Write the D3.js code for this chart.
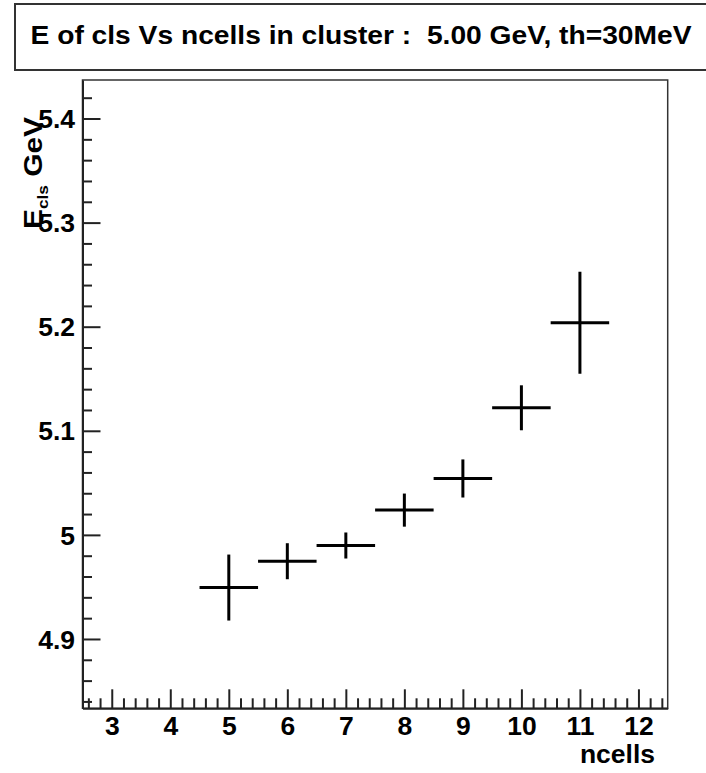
<!DOCTYPE html>
<html>
<head>
<meta charset="utf-8">
<script src="https://cdnjs.cloudflare.com/ajax/libs/d3/7.8.5/d3.min.js"></script>
<style>
    body { margin: 0; background: #fff; }
    text { font-family: "Liberation Sans", Arial, Helvetica, sans-serif; font-weight: bold; fill: #000; white-space: pre; }
</style>
</head>
<body>
<div id="div_chart"></div>
<script>
// ncells bins and mean cluster energy (GeV) with errors
var ncells = [5, 6, 7, 8, 9, 10, 11];
var energy = [4.9494, 4.9747, 4.9898, 5.0238, 5.0542, 5.1221, 5.2038];
var energyErr = [0.0317, 0.0173, 0.0125, 0.0159, 0.0183, 0.0216, 0.049];
var binHalfWidth = 0.5;

var xTicks = [3, 4, 5, 6, 7, 8, 9, 10, 11, 12];
var yTicks = [4.9, 5, 5.1, 5.2, 5.3, 5.4];
var xDomain = [2.5, 12.5];
var yDomain = [4.8334, 5.437];

var titleText = 'E of cls Vs ncells in cluster :  5.00 GeV, th=30MeV';

var W = 706, H = 773;
// frame edges (note: "top" would clash with window.top)
var fLeft = 82.5, fRight = 667.7, fTop = 80, fBottom = 708.3;
var hs = 1.06;   // text is a bit wider than Liberation Sans

var svg = d3.select('#div_chart')
    .append('svg')
    .attr('width', W)
    .attr('height', H);

svg.append('rect')
    .attr('width', W)
    .attr('height', H)
    .attr('fill', '#fff');

// title box
svg.append('rect')
    .attr('x', 15)
    .attr('y', 4)
    .attr('width', 700)
    .attr('height', 66)
    .attr('fill', '#fff')
    .attr('stroke', '#333')
    .attr('stroke-width', 2);
svg.append('text')
    .attr('transform', 'translate(361,43.8) scale(1.085,1)')
    .attr('text-anchor', 'middle')
    .attr('xml:space', 'preserve')
    .style('font-size', '26px')
    .text(titleText);

var x = d3.scaleLinear().domain(xDomain).range([fLeft, fRight]);
var y = d3.scaleLinear().domain(yDomain).range([fBottom, fTop]);

// frame
svg.append('rect')
    .attr('x', fLeft)
    .attr('y', fTop)
    .attr('width', fRight - fLeft)
    .attr('height', fBottom - fTop)
    .attr('fill', 'none')
    .attr('stroke', '#333')
    .attr('stroke-width', 1.5);

var xMinor = d3.range(13, 63).map(function(d) { return d / 5; }).filter(function(d) { return d > xDomain[0] && d < xDomain[1] && Math.abs(d - Math.round(d)) > 1e-6; });
var yMinor = d3.range(242, 272).map(function(d) { return d / 50; }).filter(function(d) { return d > yDomain[0] && d < yDomain[1] && Math.abs(d * 10 - Math.round(d * 10)) > 1e-6; });

// minor ticks
svg.append('g')
    .attr('transform', 'translate(0,' + fBottom + ')')
    .call(d3.axisBottom(x).tickValues(xMinor).tickSize(-10).tickSizeOuter(0).tickFormat(''))
    .call(function(g) { g.select('.domain').remove(); });
svg.append('g')
    .attr('transform', 'translate(' + fLeft + ',0)')
    .call(d3.axisLeft(y).tickValues(yMinor).tickSize(-9.5).tickSizeOuter(0).tickFormat(''))
    .call(function(g) { g.select('.domain').remove(); });

// major ticks + labels
var gx = svg.append('g')
    .attr('transform', 'translate(0,' + fBottom + ')')
    .call(d3.axisBottom(x).tickValues(xTicks).tickSize(-19).tickSizeOuter(0).tickPadding(9).tickFormat(d3.format('d')));
gx.selectAll('.tick text')
    .attr('y', 27)
    .attr('dy', null)
    .attr('transform', 'scale(' + hs + ',1)')
    .style('font-size', '25px')
    .style('font-family', null);

var gy = svg.append('g')
    .attr('transform', 'translate(' + fLeft + ',0)')
    .call(d3.axisLeft(y).tickValues(yTicks).tickSize(-18).tickSizeOuter(0).tickFormat(function(d) { return d3.format('~g')(d); }));
gy.selectAll('.tick text')
    .attr('x', -7.5 / hs)
    .attr('dy', null)
    .attr('y', 9.2)
    .attr('transform', 'scale(' + hs + ',1)')
    .style('font-size', '25px')
    .style('font-family', null);

svg.selectAll('.tick line').attr('stroke', '#222').attr('stroke-width', 2);
svg.selectAll('.domain').attr('stroke', '#222').attr('stroke-width', 2);

// axis titles
svg.append('text')
    .attr('transform', 'translate(655,763) scale(' + hs + ',1)')
    .attr('text-anchor', 'end')
    .style('font-size', '25px')
    .text('ncells');

var yTitle = svg.append('text')
    .attr('transform', 'translate(42,117) rotate(-90) scale(1.15,1)')
    .attr('text-anchor', 'end')
    .style('font-size', '26px');
yTitle.append('tspan').text('E');
yTitle.append('tspan').attr('dy', 6).style('font-size', '15px').text('cls');
yTitle.append('tspan').attr('dy', -6).text(' GeV');

// data points: error crosses
var pts = svg.append('g')
    .selectAll('.pt')
    .data(ncells)
    .enter()
    .append('g')
    .attr('class', 'pt');
pts.append('line')
    .attr('x1', function(d) { return x(d - binHalfWidth); })
    .attr('x2', function(d) { return x(d + binHalfWidth); })
    .attr('y1', function(d, i) { return y(energy[i]); })
    .attr('y2', function(d, i) { return y(energy[i]); })
    .attr('stroke', '#000')
    .attr('stroke-width', 3);
pts.append('line')
    .attr('x1', function(d) { return x(d); })
    .attr('x2', function(d) { return x(d); })
    .attr('y1', function(d, i) { return y(energy[i] - energyErr[i]); })
    .attr('y2', function(d, i) { return y(energy[i] + energyErr[i]); })
    .attr('stroke', '#000')
    .attr('stroke-width', 3);
</script>
</body>
</html>
